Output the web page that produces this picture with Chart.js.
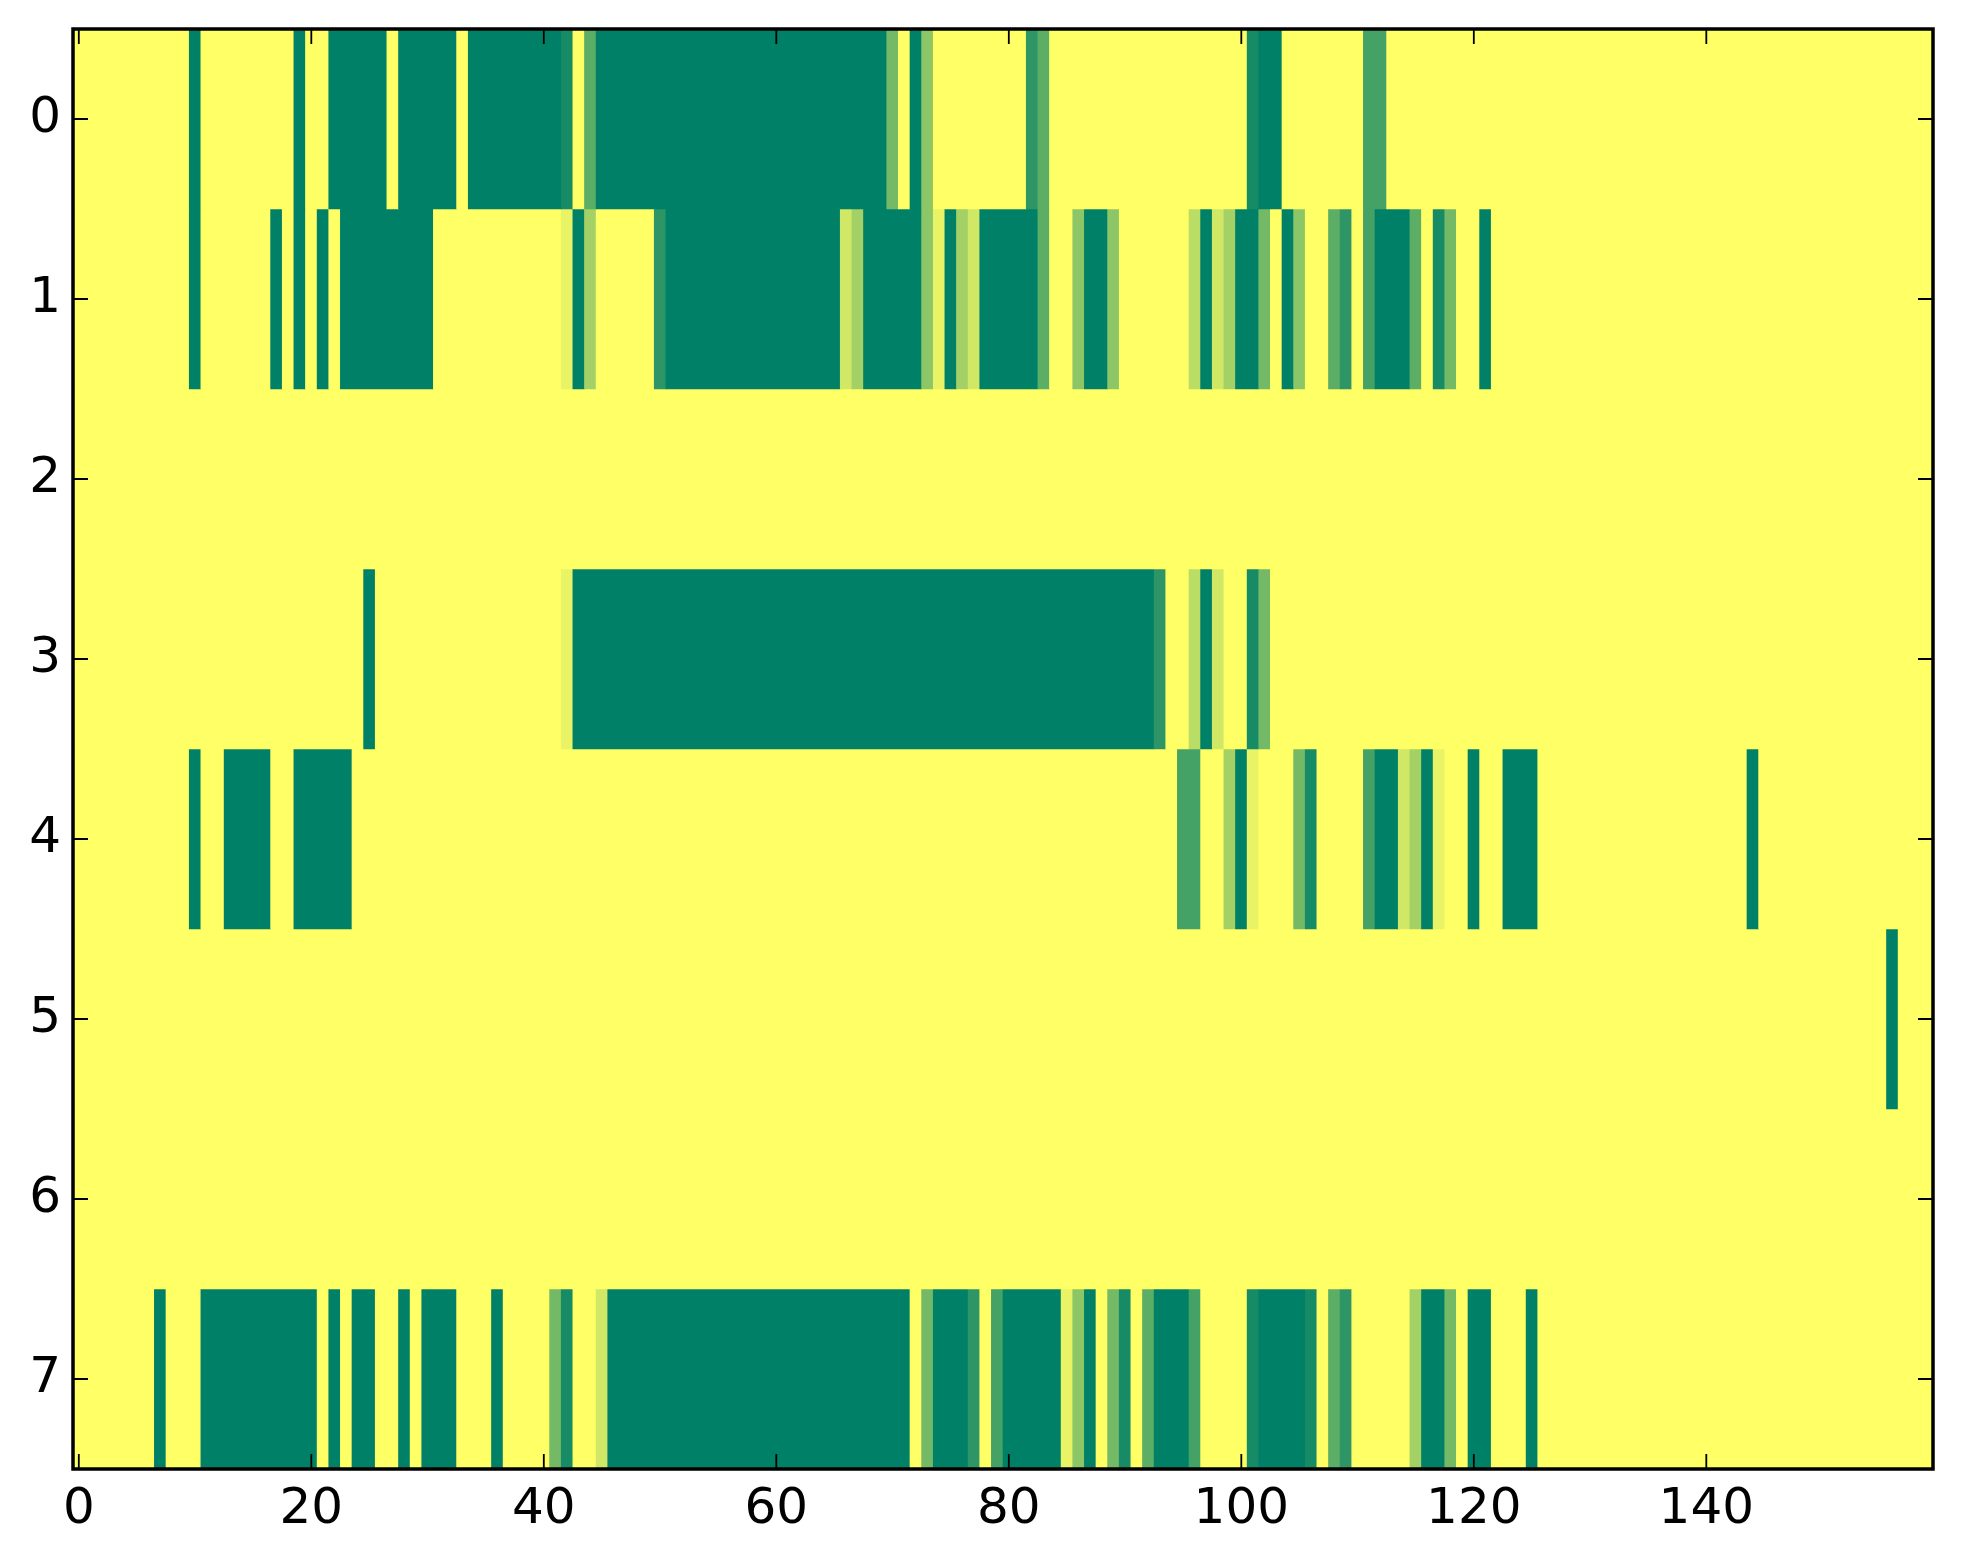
<!DOCTYPE html>
<html><head><meta charset="utf-8">
<script src="https://cdn.jsdelivr.net/npm/chart.js@4/dist/chart.umd.min.js"></script>
<style>html,body{margin:0;padding:0;background:#fff;}canvas{display:block;}</style>
</head><body>
<canvas id="c" width="1963" height="1564"></canvas>
<script>
const rowLabels = ['0','1','2','3','4','5','6','7'];
const xTickValues = [0,20,40,60,80,100,120,140];

const row0 = [
0,0,0,0,0,0,0,0,0,0, 1,0,0,0,0,0,0,0,0,1,
0,0,1,1,1,1,1,0,1,1, 1,1,1,0,1,1,1,1,1,1,
1,1,.91,0,.64,1,1,1,1,1, 1,1,1,1,1,1,1,1,1,1,
1,1,1,1,1,1,1,1,1,1, .55,0,1,.45,0,0,0,0,0,0,
0,0,.82,.64,0,0,0,0,0,0, 0,0,0,0,0,0,0,0,0,0,
0,.91,1,1,0,0,0,0,0,0, 0,.73,.73,0,0,0,0,0,0,0,
0,0,0,0,0,0,0,0,0,0, 0,0,0,0,0,0,0,0,0,0,
0,0,0,0,0,0,0,0,0,0, 0,0,0,0,0,0,0,0,0,0];
const row1 = [
0,0,0,0,0,0,0,0,0,0, 1,0,0,0,0,0,0,1,0,1,
0,1,0,1,1,1,1,1,1,1, 1,0,0,0,0,0,0,0,0,0,
0,0,.09,1,.36,0,0,0,0,0, .82,1,1,1,1,1,1,1,1,1,
1,1,1,1,1,1,.18,.36,1,1, 1,1,1,.45,.09,1,.36,.18,1,1,
1,1,1,.64,0,0,.45,1,1,.45, 0,0,0,0,0,0,.27,1,.18,.36,
1,1,.55,0,1,.45,0,0,.64,.82, 0,.73,1,1,1,.64,0,.91,.55,0,
0,1,0,0,0,0,0,0,0,0, 0,0,0,0,0,0,0,0,0,0,
0,0,0,0,0,0,0,0,0,0, 0,0,0,0,0,0,0,0,0,0];
const row2 = [
0,0,0,0,0,0,0,0,0,0, 0,0,0,0,0,0,0,0,0,0,
0,0,0,0,0,0,0,0,0,0, 0,0,0,0,0,0,0,0,0,0,
0,0,0,0,0,0,0,0,0,0, 0,0,0,0,0,0,0,0,0,0,
0,0,0,0,0,0,0,0,0,0, 0,0,0,0,0,0,0,0,0,0,
0,0,0,0,0,0,0,0,0,0, 0,0,0,0,0,0,0,0,0,0,
0,0,0,0,0,0,0,0,0,0, 0,0,0,0,0,0,0,0,0,0,
0,0,0,0,0,0,0,0,0,0, 0,0,0,0,0,0,0,0,0,0,
0,0,0,0,0,0,0,0,0,0, 0,0,0,0,0,0,0,0,0,0];
const row3 = [
0,0,0,0,0,0,0,0,0,0, 0,0,0,0,0,0,0,0,0,0,
0,0,0,0,0,1,0,0,0,0, 0,0,0,0,0,0,0,0,0,0,
0,0,.09,1,1,1,1,1,1,1, 1,1,1,1,1,1,1,1,1,1,
1,1,1,1,1,1,1,1,1,1, 1,1,1,1,1,1,1,1,1,1,
1,1,1,1,1,1,1,1,1,1, 1,1,1,.82,0,0,.27,1,.18,0,
0,.91,.55,0,0,0,0,0,0,0, 0,0,0,0,0,0,0,0,0,0,
0,0,0,0,0,0,0,0,0,0, 0,0,0,0,0,0,0,0,0,0,
0,0,0,0,0,0,0,0,0,0, 0,0,0,0,0,0,0,0,0,0];
const row4 = [
0,0,0,0,0,0,0,0,0,0, 1,0,0,1,1,1,1,0,0,1,
1,1,1,1,0,0,0,0,0,0, 0,0,0,0,0,0,0,0,0,0,
0,0,0,0,0,0,0,0,0,0, 0,0,0,0,0,0,0,0,0,0,
0,0,0,0,0,0,0,0,0,0, 0,0,0,0,0,0,0,0,0,0,
0,0,0,0,0,0,0,0,0,0, 0,0,0,0,0,.73,.73,0,0,.36,
1,.09,0,0,0,.55,.91,0,0,0, 0,.73,1,1,.18,.36,1,.09,0,0,
1,0,0,1,1,1,0,0,0,0, 0,0,0,0,0,0,0,0,0,0,
0,0,0,0,1,0,0,0,0,0, 0,0,0,0,0,0,0,0,0,0];
const row5 = [
0,0,0,0,0,0,0,0,0,0, 0,0,0,0,0,0,0,0,0,0,
0,0,0,0,0,0,0,0,0,0, 0,0,0,0,0,0,0,0,0,0,
0,0,0,0,0,0,0,0,0,0, 0,0,0,0,0,0,0,0,0,0,
0,0,0,0,0,0,0,0,0,0, 0,0,0,0,0,0,0,0,0,0,
0,0,0,0,0,0,0,0,0,0, 0,0,0,0,0,0,0,0,0,0,
0,0,0,0,0,0,0,0,0,0, 0,0,0,0,0,0,0,0,0,0,
0,0,0,0,0,0,0,0,0,0, 0,0,0,0,0,0,0,0,0,0,
0,0,0,0,0,0,0,0,0,0, 0,0,0,0,0,0,1,0,0,0];
const row6 = [
0,0,0,0,0,0,0,0,0,0, 0,0,0,0,0,0,0,0,0,0,
0,0,0,0,0,0,0,0,0,0, 0,0,0,0,0,0,0,0,0,0,
0,0,0,0,0,0,0,0,0,0, 0,0,0,0,0,0,0,0,0,0,
0,0,0,0,0,0,0,0,0,0, 0,0,0,0,0,0,0,0,0,0,
0,0,0,0,0,0,0,0,0,0, 0,0,0,0,0,0,0,0,0,0,
0,0,0,0,0,0,0,0,0,0, 0,0,0,0,0,0,0,0,0,0,
0,0,0,0,0,0,0,0,0,0, 0,0,0,0,0,0,0,0,0,0,
0,0,0,0,0,0,0,0,0,0, 0,0,0,0,0,0,0,0,0,0];
const row7 = [
0,0,0,0,0,0,0,1,0,0, 0,1,1,1,1,1,1,1,1,1,
1,0,1,0,1,1,0,0,1,0, 1,1,1,0,0,0,1,0,0,0,
0,.55,.91,0,0,.18,1,1,1,1, 1,1,1,1,1,1,1,1,1,1,
1,1,1,1,1,1,1,1,1,1, 1,1,0,.55,1,1,1,.82,0,.73,
1,1,1,1,1,.09,.45,1,0,.55, .91,0,.64,1,1,1,.73,0,0,0,
0,.91,1,1,1,1,.91,0,.64,.82, 0,0,0,0,0,.36,1,1,.55,0,
1,1,0,0,0,1,0,0,0,0, 0,0,0,0,0,0,0,0,0,0,
0,0,0,0,0,0,0,0,0,0, 0,0,0,0,0,0,0,0,0,0];

const rows = [row0,row1,row2,row3,row4,row5,row6,row7];

// summer_r colormap: 0 -> yellow, 1 -> green
function cmap(v){
  const r = Math.round(255*(1-v));
  const g = Math.round(255*(1-0.5*v));
  return 'rgb(' + r + ',' + g + ',102)';
}

const datasets = rows.map(function(vals, r){
  const data = [], colors = [];
  let s = 0;
  for (let j = 1; j <= vals.length; j++){
    if (j === vals.length || vals[j] !== vals[s]){
      data.push({x:[s-0.5, j-0.5], y: rowLabels[r]});
      colors.push(cmap(vals[s]));
      s = j;
    }
  }
  return {label:'row '+r, data:data, backgroundColor:colors, borderWidth:0,
          grouped:false, categoryPercentage:1, barPercentage:1};
});

const frame = {
  id:'frame',
  beforeDatasetsDraw(chart){
    const {ctx, chartArea:a} = chart;
    ctx.save();
    ctx.fillStyle = cmap(0);
    ctx.fillRect(a.left, a.top, a.right-a.left, a.bottom-a.top);
    ctx.restore();
  },
  afterDatasetsDraw(chart){
    const {ctx, chartArea:a, scales} = chart;
    const L = 15;
    ctx.save();
    ctx.strokeStyle = '#000';
    ctx.lineWidth = 1.8;
    ctx.beginPath();
    xTickValues.forEach(function(v){
      const px = scales.x.getPixelForValue(v);
      ctx.moveTo(px, a.bottom); ctx.lineTo(px, a.bottom-L);
      ctx.moveTo(px, a.top); ctx.lineTo(px, a.top+L);
    });
    rowLabels.forEach(function(lbl, i){
      const py = scales.y.getPixelForValue(i);
      ctx.moveTo(a.left, py); ctx.lineTo(a.left+L, py);
      ctx.moveTo(a.right, py); ctx.lineTo(a.right-L, py);
    });
    ctx.stroke();
    ctx.lineWidth = 3.5;
    ctx.strokeRect(a.left, a.top, a.right-a.left, a.bottom-a.top);
    ctx.restore();
  }
};

const font = {family:'DejaVu Sans', size:50};

new Chart(document.getElementById('c'), {
  type:'bar',
  data:{labels: rowLabels, datasets: datasets},
  options:{
    indexAxis:'y',
    responsive:false,
    animation:false,
    devicePixelRatio:1,
    layout:{padding:{top:29, right:30, left:0, bottom:0}},
    plugins:{legend:{display:false}, tooltip:{enabled:false}},
    scales:{
      x:{
        type:'linear', min:-0.5, max:159.5,
        afterBuildTicks:function(s){ s.ticks = xTickValues.map(function(v){return {value:v};}); },
        afterFit:function(s){ s.height = 95; s.paddingLeft = 0; s.paddingRight = 0; },
        grid:{display:false, drawTicks:false},
        border:{display:false},
        ticks:{font:font, color:'#000', padding:11, maxRotation:0, autoSkip:false}
      },
      y:{
        type:'category', labels: rowLabels, offset:true,
        afterFit:function(s){ s.width = 73; s.paddingTop = 0; s.paddingBottom = 0; },
        grid:{display:false, drawTicks:false},
        border:{display:false},
        ticks:{font:font, color:'#000', padding:12, autoSkip:false}
      }
    }
  },
  plugins:[frame]
});
</script>
</body></html>
